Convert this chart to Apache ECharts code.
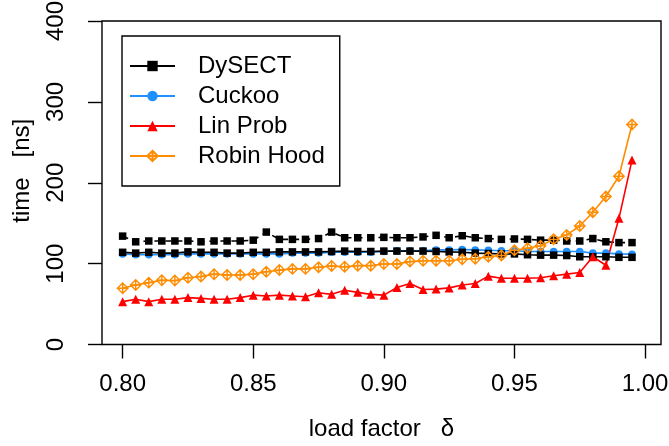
<!DOCTYPE html>
<html>
<head>
<meta charset="utf-8">
<title>load factor vs time</title>
<script src="https://cdn.jsdelivr.net/npm/echarts@6/dist/echarts.min.js"></script>
<style>
    html, body { margin: 0; padding: 0; background: #fff; }
    #chart { width: 669px; height: 446px; }
</style>
</head>
<body>
<div id="chart"></div>
<script>
// load factor on the x axis (0.800 .. 0.995)
var loadFactor = [0.800, 0.805, 0.810, 0.815, 0.820, 0.825, 0.830, 0.835, 0.840, 0.845,
    0.850, 0.855, 0.860, 0.865, 0.870, 0.875, 0.880, 0.885, 0.890, 0.895,
    0.900, 0.905, 0.910, 0.915, 0.920, 0.925, 0.930, 0.935, 0.940, 0.945,
    0.950, 0.955, 0.960, 0.965, 0.970, 0.975, 0.980, 0.985, 0.990, 0.995];

var dysect = [114, 113, 114, 113, 113, 114.5, 114, 114, 113, 113,
    114, 114, 114.5, 114.5, 114.5, 114.5, 115, 115.5, 115, 115,
    115.5, 115.5, 115.5, 115.5, 115, 114.5, 114, 113, 112.5, 112,
    112, 111, 110.5, 110.5, 110, 108.5, 108.5, 108.5, 107.8, 107.8];

// second DySECT run (dashed, not in legend)
var dysectDashed = [134, 127, 128, 128, 128, 128, 127, 128, 128, 128,
    129, 139, 130, 130, 130, 131, 139, 132, 132, 132,
    132.5, 132, 132, 133, 135, 132, 134.5, 132, 131, 130,
    130.5, 130, 129, 129, 128, 128, 131, 127, 126, 126];

var cuckoo = [112, 111, 111, 111, 111, 112, 112, 112, 112, 112,
    112, 112, 112, 113, 113, 113, 114, 114, 114, 114,
    115, 116, 116, 116, 117, 117, 117.5, 117, 116.5, 116,
    116, 115, 115, 115, 115, 115, 113, 113, 112, 111.7];

var linProb = [53, 56, 53, 56, 56, 58, 57, 56, 56, 58,
    61, 60, 61, 60, 59, 64, 62, 67, 64.5, 62,
    61, 70.5, 75.5, 68, 68.5, 70, 73.5, 75.5, 84.5, 82,
    82, 82, 82.5, 85, 87, 89, 108.5, 98, 156, 228];

var robinHood = [69.5, 73.5, 76.5, 79.5, 79, 82.5, 84, 87, 86, 86,
    87, 90, 92, 93.5, 93.5, 95.5, 97, 96, 97.5, 97.5,
    99.5, 99.5, 102.5, 103.5, 103.5, 103.5, 105.5, 106, 108.5, 110,
    116.5, 119, 122, 130, 135.5, 146.5, 163.5, 183, 208, 272];

var xTicks = [0.80, 0.85, 0.90, 0.95, 1.00];
var yTicks = [0, 100, 200, 300, 400];

var FONT = 'Liberation Sans';
var diamondPlus = 'path://M0,-10L10,0L0,10L-10,0Z M-10,0L10,0 M0,-10L0,10';

function pairs(values) {
    return values.map(function (v, i) {
        return [loadFactor[i], v];
    });
}

function lineSeries(name, values, color, symbol, size, extra) {
    var s = {
        name: name,
        type: 'line',
        data: pairs(values),
        symbol: symbol,
        symbolSize: size,
        showSymbol: true,
        color: color,
        lineStyle: {color: color, width: 1.6},
        itemStyle: {color: color},
        emphasis: {disabled: true}
    };
    if (extra) {
        for (var k in extra) s[k] = extra[k];
    }
    return s;
}

var chart = echarts.init(document.getElementById('chart'), null, {renderer: 'canvas'});

var option = {
    animation: false,
    backgroundColor: '#fff',
    textStyle: {fontFamily: FONT},
    grid: {
        left: 102, right: 8, top: 21, bottom: 101.5,
        show: true, borderColor: '#000', borderWidth: 1.4,
        containLabel: false, outerBoundsMode: 'none'
    },
    legend: {
        data: ['DySECT', 'Cuckoo', 'Lin Prob', 'Robin Hood'],
        orient: 'vertical',
        left: 122, top: 36,
        padding: [18, 15, 18, 7],
        itemWidth: 45, itemHeight: 13, itemGap: 6,
        borderColor: '#000', borderWidth: 1.4,
        backgroundColor: '#fff',
        selectedMode: false,
        textStyle: {fontFamily: FONT, fontSize: 24, color: '#000', padding: [0, 0, 0, 18], lineHeight: 24}
    },
    xAxis: {
        type: 'value',
        min: 0.7921, max: 1.0061,
        name: 'load factor   \u03b4',
        nameLocation: 'middle',
        nameGap: 73,
        nameTextStyle: {fontFamily: FONT, fontSize: 24, color: '#000'},
        axisLine: {show: false},
        axisTick: {show: true, length: 14, customValues: xTicks, lineStyle: {color: '#000', width: 1.4}},
        axisLabel: {
            customValues: xTicks, margin: 28, fontSize: 24, color: '#000', fontFamily: FONT,
            formatter: function (v) { return v.toFixed(2); }
        },
        splitLine: {show: false}
    },
    yAxis: {
        type: 'value',
        min: 0, max: 400, interval: 100,
        name: 'time   [ns]',
        nameLocation: 'middle',
        nameGap: 68,
        nameTextStyle: {fontFamily: FONT, fontSize: 24, color: '#000', padding: [0, 0, 0, 24]},
        axisLine: {show: false},
        axisTick: {show: true, length: 14, customValues: yTicks, lineStyle: {color: '#000', width: 1.4}},
        axisLabel: {customValues: yTicks, rotate: 90, margin: 34, fontSize: 24, color: '#000', fontFamily: FONT},
        splitLine: {show: false}
    },
    series: [
        lineSeries('Cuckoo', cuckoo, '#1E90FF', 'circle', 7.5),
        lineSeries('DySECT', dysect, '#000000', 'rect', 7.5),
        lineSeries('DySECT 2', dysectDashed, '#000000', 'rect', 7.5, {
            lineStyle: {color: '#000', width: 1.6, type: [6, 5]}
        }),
        lineSeries('Lin Prob', linProb, '#FF0000', 'triangle', 9),
        lineSeries('Robin Hood', robinHood, '#FF8C00', diamondPlus, 10.5, {
            itemStyle: {color: 'rgba(255,255,255,0)', borderColor: '#FF8C00', borderWidth: 1.4}
        })
    ]
};

chart.setOption(option);
</script>
</body>
</html>
